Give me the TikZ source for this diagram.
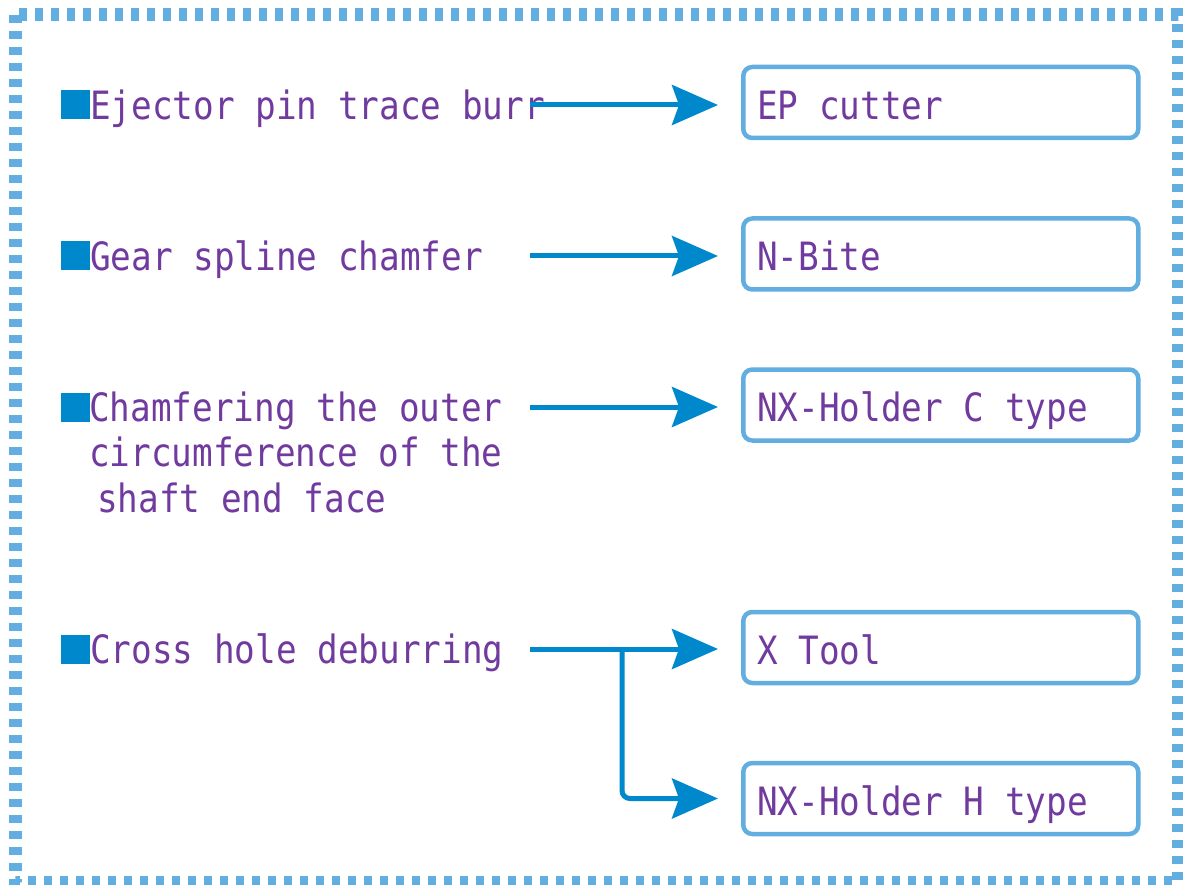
\documentclass[tikz,border=0pt]{standalone}
\usepackage{fontspec}
\usepackage{tikz}
\usetikzlibrary{arrows.meta,positioning,calc}
\newfontfamily\gothic[FakeStretch=0.88]{DejaVu Sans Mono}
\definecolor{frame}{RGB}{98,174,224}
\definecolor{flow}{RGB}{0,136,204}
\definecolor{ink}{RGB}{112,58,158}

\begin{document}
\begin{tikzpicture}[x=1pt, y=-1pt,
    sq/.style={fill=flow, draw=none, minimum size=29pt, inner sep=0pt, anchor=west},
    lbl/.style={anchor=west, inner sep=0pt, text=ink, font={\gothic\fontsize{39pt}{45.5pt}\selectfont}, text height=34pt, text depth=5.6pt},
    tool/.style={draw=frame, line width=4.5pt, rounded corners=9pt, anchor=west, text=ink,
        font={\gothic\fontsize{39pt}{45.5pt}\selectfont}, text width=367pt, inner xsep=14pt,
        minimum height=71pt, align=flush left, text height=37pt, text depth=3.5pt},
    arrow/.style={-{Stealth[length=46pt, width=40pt, inset=7pt]}, draw=flow, line width=5pt, shorten >=23pt}
]
    \useasboundingbox (0,0) rectangle (1183,885);

    % Dotted frame
    \draw[frame, line width=13pt, dash pattern=on 8pt off 8pt] (15,15) rectangle (1178,882);

    % Tools
    \node[tool] (ep)  at (741,102.5) {EP cutter};
    \node[tool] (nb)  at (741,254)   {N-Bite};
    \node[tool] (nxc) at (741,405)   {NX-Holder C type};
    \node[tool] (xt)  at (741,647.5) {X Tool};
    \node[tool] (nxh) at (741,798.5) {NX-Holder H type};

    % Bullets
    \foreach \i/\y in {1/105, 2/256, 3/407, 4/649} {
        \node[sq] (q\i) at (61,\y) {};
        \coordinate (s\i) at (530,\y);
    }

    % Labels
    \node[lbl] (t1) at (90,105) {Ejector pin trace burr};
    \node[lbl] (t2) at (90,256) {Gear spline chamfer};
    \node[lbl, anchor=base west, align=flush left, text height=, text depth=] (t3) at (89,512)
        {Chamfering the outer\\circumference of the\\\hspace*{8pt}shaft end face};
    \node[lbl] (t4) at (90,649) {Cross hole deburring};

    % Arrows
    \draw[arrow] (s1) -- (s1 -| ep.west);
    \draw[arrow] (s2) -- (s2 -| nb.west);
    \draw[arrow] (s3) -- (s3 -| nxc.west);
    \draw[arrow] (s4) -- (s4 -| xt.west);
    \coordinate (j4) at (622,649);
    \draw[arrow, rounded corners=8pt] (j4) |- (nxh.west);
\end{tikzpicture}
\end{document}
